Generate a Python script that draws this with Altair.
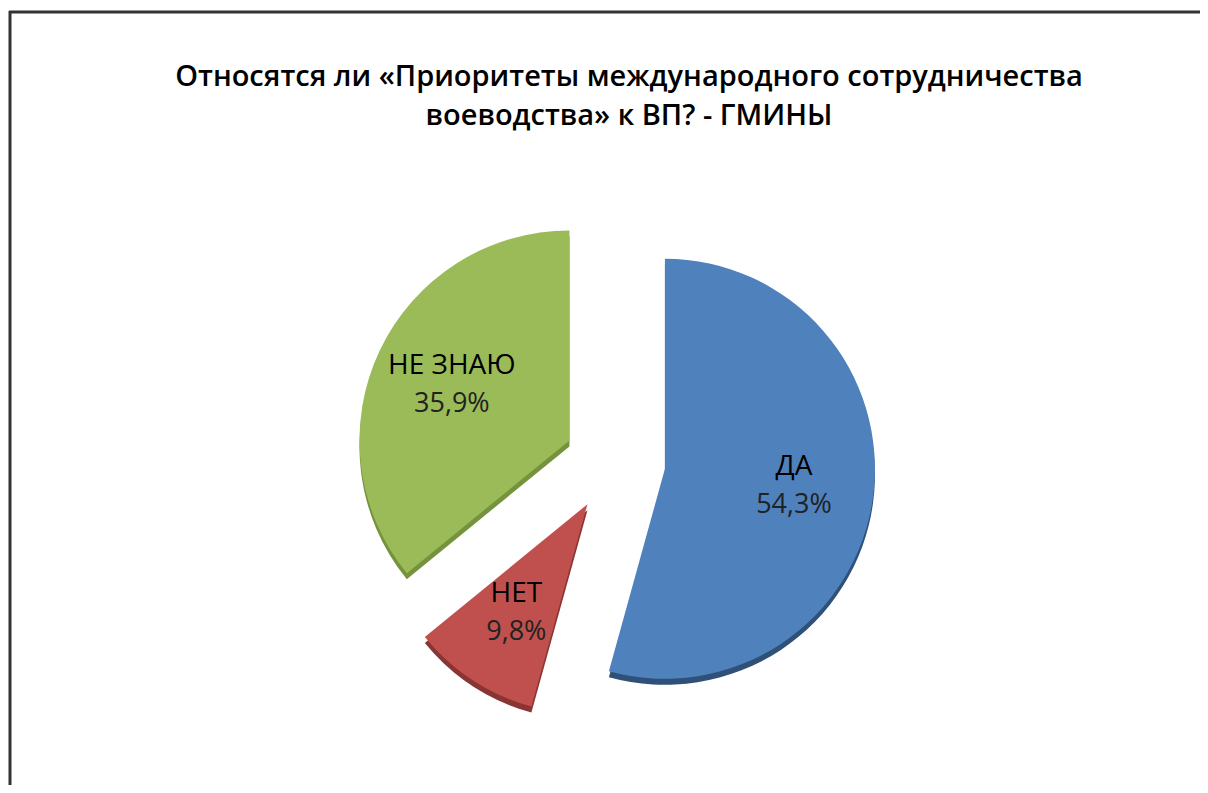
import math
import altair as alt
import pandas as pd

# ---- data ----
categories = ["ДА", "НЕТ", "НЕ ЗНАЮ"]
values = [54.3, 9.8, 35.9]
pct_labels = ["54,3%", "9,8%", "35,9%"]
title_lines = ["Относятся ли «Приоритеты международного сотрудничества",
               "воеводства» к ВП? - ГМИНЫ"]

# ---- style ----
colors = ["#4F81BD", "#C0504D", "#9BBB59"]
dark_colors = ["#2F5178", "#8A3533", "#75923C"]
W, H = 1192, 777
CX, CY = 607, 454          # pie centre (plot coords)
R = 210                    # pie radius in px
EXPLODE = 0.24             # explosion as fraction of radius
LABEL_R = 0.62             # label distance (fraction of radius) from slice apex

df = pd.DataFrame({"cat": categories, "val": values, "pct": pct_labels,
                   "order": list(range(len(categories)))})

base = alt.Chart(df).transform_window(
    cum="sum(val)", sort=[alt.SortField("order")], frame=[None, 0]
).transform_joinaggregate(
    total="sum(val)"
).transform_calculate(
    start="datum.cum - datum.val",
    end="datum.cum",
    mid="(datum.cum - datum.val / 2) / datum.total * 2 * PI",
).transform_calculate(
    ex=f"{EXPLODE} * sin(datum.mid)",
    ey=f"-{EXPLODE} * cos(datum.mid)",
    lx=f"{EXPLODE + LABEL_R} * sin(datum.mid)",
    ly=f"-{EXPLODE + LABEL_R} * cos(datum.mid)",
)

xs = alt.Scale(domain=[-1, 1], range=[CX - R, CX + R])
ys = alt.Scale(domain=[-1, 1], range=[CY - R, CY + R])
theta_scale = alt.Scale(domain=[0, 100], range=[0, 2 * math.pi])

depth = base.mark_arc(outerRadius=R, yOffset=6).encode(
    x=alt.X("ex:Q", scale=xs, axis=None),
    y=alt.Y("ey:Q", scale=ys, axis=None),
    theta=alt.Theta("start:Q", scale=theta_scale, stack=None),
    theta2="end:Q",
    fill=alt.Fill("cat:N", scale=alt.Scale(domain=categories, range=dark_colors), legend=None),
)
top = base.mark_arc(outerRadius=R).encode(
    x=alt.X("ex:Q", scale=xs, axis=None),
    y=alt.Y("ey:Q", scale=ys, axis=None),
    theta=alt.Theta("start:Q", scale=theta_scale, stack=None),
    theta2="end:Q",
    color=alt.Color("cat:N", scale=alt.Scale(domain=categories, range=colors), legend=None),
)

names = base.mark_text(font="Open Sans", fontSize=28, fontWeight=500, color="#000000", dy=-19).encode(
    x=alt.X("lx:Q", scale=xs, axis=None),
    y=alt.Y("ly:Q", scale=ys, axis=None),
    text="cat:N",
)
pcts = base.mark_text(font="Open Sans", fontSize=27, color="#222222", dy=19).encode(
    x=alt.X("lx:Q", scale=xs, axis=None),
    y=alt.Y("ly:Q", scale=ys, axis=None),
    text="pct:N",
)

frame_df = pd.DataFrame({"k": [0]})
frame_v = alt.Chart(frame_df).mark_rule(color="#333333", strokeWidth=3).encode(
    x=alt.value(2), y=alt.value(3), y2=alt.value(H))
frame_h = alt.Chart(frame_df).mark_rule(color="#333333", strokeWidth=3).encode(
    x=alt.value(1), x2=alt.value(W), y=alt.value(4))

chart = alt.layer(frame_v, frame_h, depth, top, names, pcts).resolve_scale(
    color="independent", fill="independent"
).properties(
    width=W, height=H,
    autosize=alt.AutoSizeParams(type="none"),
    padding=0,
    title=alt.TitleParams(title_lines, anchor="middle", font="Open Sans",
                          fontSize=29, fontWeight=600, color="#000000",
                          lineHeight=39, dx=25, dy=127),
).configure_view(stroke=None)

chart.save("out.html", embed_options={"renderer": "svg", "actions": False})
